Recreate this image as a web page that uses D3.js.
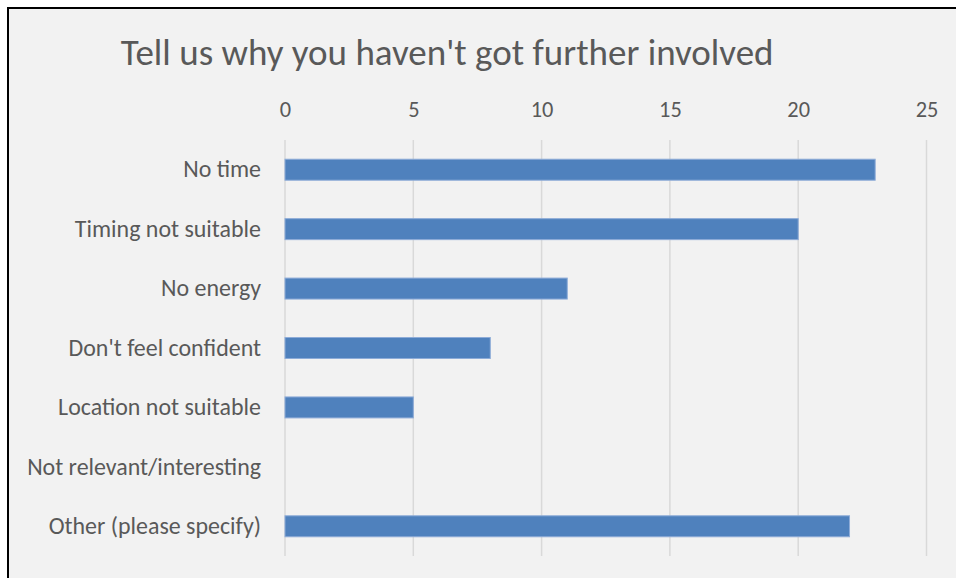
<!DOCTYPE html>
<html>
<head>
<meta charset="utf-8">
<script src="https://cdn.jsdelivr.net/npm/d3@7"></script>
<style>
  html, body { margin: 0; padding: 0; background: #ffffff; }
  svg { display: block; }
</style>
</head>
<body>
<svg id="chart" width="956" height="578"></svg>
<script>
// ---- data ----
const title = "Tell us why you haven't got further involved";
const categories = [
  "No time",
  "Timing not suitable",
  "No energy",
  "Don't feel confident",
  "Location not suitable",
  "Not relevant/interesting",
  "Other (please specify)"
];
const values = [23, 20, 11, 8, 5, 0, 22];
const tickValues = [0, 5, 10, 15, 20, 25];

// ---- layout ----
const W = 956, H = 578;
const FONT = "Carlito, Calibri, 'Open Sans', sans-serif";
const TEXT = "#595959";
const svg = d3.select("#chart");

// chart area background + border (cropped at right/bottom)
svg.append("rect").attr("x", 0).attr("y", 0).attr("width", W).attr("height", H).attr("fill", "#ffffff");
svg.append("rect")
  .attr("x", 8).attr("y", 8).attr("width", W + 20).attr("height", H + 20)
  .attr("fill", "#f2f2f2").attr("stroke", "#000000").attr("stroke-width", 2);

const x = d3.scaleLinear().domain([0, 25]).range([285, 926.5]);
const y = d3.scaleBand().domain(categories).range([140, 556]).paddingInner(0.647).paddingOuter(0.3235);

// helper: fit font size to a target width
function fitSize(text, targetWidth, base) {
  const t = svg.append("text").attr("font-family", FONT).attr("font-size", base).text(text);
  const w = t.node().getComputedTextLength();
  t.remove();
  return base * targetWidth / w;
}
const catSize = fitSize("Not relevant/interesting", 234, 20);
const tickSize = fitSize("10", 22.7, 20);
const titleSize = fitSize(title, 653, 34);

// gridlines
svg.append("g").selectAll("line").data(tickValues).join("line")
  .attr("x1", d => x(d)).attr("x2", d => x(d))
  .attr("y1", 140).attr("y2", 556)
  .attr("stroke", "#d9d9d9").attr("stroke-width", 1.5);

// top axis labels
const axis = d3.axisTop(x).tickValues(tickValues).tickSize(0).tickPadding(0);
const gAxis = svg.append("g").attr("transform", "translate(0,117)").call(axis);
gAxis.select(".domain").remove();
gAxis.selectAll("text")
  .attr("font-family", FONT).attr("font-size", tickSize).attr("fill", TEXT)
  .attr("dy", 0);

// bars
svg.append("g").selectAll("rect").data(values).join("rect")
  .attr("x", x(0))
  .attr("y", (d, i) => y(categories[i]))
  .attr("width", d => x(d) - x(0))
  .attr("height", y.bandwidth())
  .attr("fill", "#4f81bd")
  .attr("stroke", d => d > 0 ? "#8eacd8" : "none")
  .attr("stroke-width", 1);

// category labels
const yAxis = d3.axisLeft(y).tickSize(0).tickPadding(24);
const gY = svg.append("g").attr("transform", `translate(${x(0)},0)`).call(yAxis);
gY.select(".domain").remove();
gY.selectAll("text")
  .attr("font-family", FONT).attr("font-size", catSize).attr("fill", TEXT);

// title
svg.append("text")
  .attr("x", 120.7).attr("y", 65)
  .attr("font-family", FONT).attr("font-size", titleSize).attr("fill", TEXT)
  .text(title);
</script>
</body>
</html>
